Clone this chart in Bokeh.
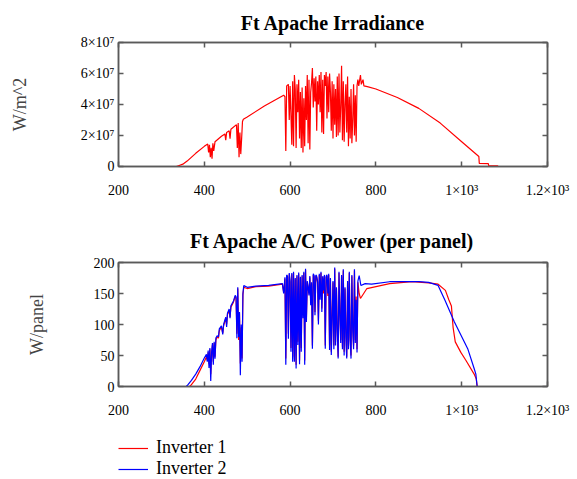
from bokeh.plotting import figure
from bokeh.layouts import column
from bokeh.models import (FixedTicker, LinearAxis, Legend, LegendItem,
                          CustomJSTickFormatter, Range1d)
from bokeh.embed import file_html
from bokeh.resources import INLINE

# ---------------- data ----------------
x_ticks = [200, 400, 600, 800, 1000, 1200]
x_tick_labels = ["200", "400", "600", "800", "1×10³", "1.2×10³"]
irr_ticks = [0, 2e7, 4e7, 6e7, 8e7]
irr_tick_labels = ["0", "2×10⁷", "4×10⁷", "6×10⁷", "8×10⁷"]
pow_ticks = [0, 50, 100, 150, 200]
pow_tick_labels = ["0", "50", "100", "150", "200"]
series_names = ["Inverter 1", "Inverter 2"]

irr_x = [200, 335, 340, 350, 360, 380, 400, 408, 410, 412, 414, 416, 418, 420, 422, 425,
         440, 448, 450, 452, 458, 460, 462, 475, 477, 479, 481, 483, 485, 487, 489, 491,
         500, 540, 585, 588, 590, 592, 596, 598, 600, 604, 606, 608, 610, 612, 614, 616,
         618, 620, 622, 624, 626, 628, 630, 632, 634, 636, 638, 640, 642, 644, 646, 648,
         650, 652, 654, 656, 658, 660, 662, 664, 666, 668, 670, 672, 674, 676, 678, 680,
         682, 684, 686, 688, 690, 692, 694, 696, 698, 700, 702, 704, 706, 708, 710, 712,
         714, 716, 718, 720, 722, 724, 726, 728, 730, 732, 734, 736, 738, 740, 742, 744,
         746, 748, 750, 752, 754, 756, 758, 760, 764, 766, 770, 772, 780, 800, 850, 900,
         950, 1000, 1040, 1041, 1062, 1063, 1083, 1085, 1200]
irr_y = [0, 0, 0.05e7, 0.15e7, 0.35e7, 0.85e7, 1.3e7, 1.45e7, 0.9e7, 1.4e7, 0.6e7, 1.2e7,
         0.5e7, 1.5e7, 1.0e7, 1.6e7,
         1.95e7, 2.1e7, 1.7e7, 2.2e7, 2.3e7, 1.8e7, 2.4e7, 2.7e7, 1.2e7, 2.8e7, 0.6e7,
         2.2e7, 0.8e7, 1.8e7, 2.9e7, 3.05e7,
         3.2e7, 3.9e7, 4.6e7, 4.5e7, 1.0e7, 5.2e7, 5.3e7, 3.0e7, 5.2e7, 1.4e7, 5.5e7,
         1.3e7, 5.9e7, 5.0e7, 1.2e7, 5.3e7,
         3.5e7, 5.6e7, 1.8e7, 4.8e7, 1.2e7, 5.1e7, 0.9e7, 4.4e7, 1.3e7, 5.2e7, 3.0e7,
         5.9e7, 1.5e7, 5.6e7, 1.1e7, 4.8e7,
         5.4e7, 6.35e7, 3.8e7, 5.7e7, 4.2e7, 5.8e7, 2.3e7, 5.5e7, 4.0e7, 5.9e7, 3.5e7,
         6.1e7, 2.2e7, 5.6e7, 2.1e7, 5.9e7,
         5.2e7, 6.1e7, 3.1e7, 5.8e7, 3.5e7, 6.0e7, 4.8e7, 2.3e7, 5.5e7, 1.8e7, 5.3e7,
         2.7e7, 5.0e7, 1.9e7, 5.8e7, 2.0e7,
         6.0e7, 2.2e7, 3.9e7, 6.5e7, 1.7e7, 5.5e7, 1.6e7, 4.0e7, 5.3e7, 2.2e7, 5.8e7,
         1.3e7, 4.5e7, 1.8e7, 5.0e7, 1.5e7,
         3.0e7, 5.3e7, 2.0e7, 4.6e7, 1.6e7, 5.2e7, 5.6e7, 5.2e7, 5.9e7, 5.3e7, 5.6e7,
         5.2e7, 5.15e7, 5.0e7, 4.45e7, 3.75e7,
         2.8e7, 1.6e7, 0.65e7, 0.2e7, 0.18e7, 0.05e7, 0.05e7, 0, 0]

inv2_x = [200, 358, 362, 370, 380, 390, 400, 405, 407, 409, 411, 413, 415, 417, 419, 421,
          423, 425, 427, 430, 433, 435, 440, 443, 445, 450, 452, 454, 458, 460, 462, 468,
          472, 474, 476, 478, 480, 482, 484, 486, 488, 490, 492, 500, 520, 550, 582, 585,
          588, 590, 592, 594, 596, 598, 600, 602, 604, 606, 608, 610, 612, 614, 616, 618,
          620, 622, 624, 626, 628, 630, 632, 634, 636, 638, 640, 642, 644, 646, 648, 650,
          652, 654, 656, 658, 660, 662, 664, 666, 668, 670, 672, 674, 676, 678, 680, 682,
          684, 686, 688, 690, 692, 694, 696, 698, 700, 702, 704, 706, 708, 710, 712, 714,
          716, 718, 720, 722, 724, 726, 728, 730, 732, 734, 736, 738, 740, 742, 744, 746,
          748, 750, 752, 754, 756, 758, 761, 765, 775, 790, 832, 900, 923, 945, 961, 983,
          1014, 1029, 1033, 1036, 1200]
inv2_y = [0, 0, 3, 10, 20, 32, 46, 52, 40, 58, 30, 62, 9, 55, 70, 35,
          72, 45, 78, 82, 80, 93, 98, 84, 100, 112, 96, 118, 125, 110, 130, 138,
          147, 145, 78, 160, 80, 120, 18, 100, 40, 150, 163, 160, 162, 163, 166, 150,
          176, 35, 180, 178, 77, 183, 170, 56, 183, 40, 185, 40, 175, 29, 180, 67,
          184, 36, 177, 56, 180, 110, 185, 35, 190, 104, 170, 160, 147, 178, 131, 168,
          61, 182, 179, 115, 180, 178, 170, 100, 182, 140, 185, 120, 178, 155, 180, 61,
          178, 180, 150, 182, 59, 175, 51, 108, 170, 60, 192, 66, 160, 90, 45, 185,
          115, 70, 180, 60, 189, 50, 160, 80, 45, 170, 60, 185, 75, 45, 180, 90,
          60, 189, 70, 140, 55, 170, 179, 163, 166, 165, 169, 169, 168, 163, 139, 104,
          61, 29, 20, 0, 0]

inv1_x = [200, 366, 370, 380, 390, 400, 405, 407, 409, 411, 413, 415, 417, 419, 421,
          423, 425, 427, 430, 433, 435, 440, 443, 445, 450, 452, 454, 458, 460, 462, 468,
          472, 474, 476, 478, 480, 482, 484, 486, 488, 490, 492, 500, 520, 550, 582, 585,
          588, 590, 592, 594, 596, 598, 600, 602, 604, 606, 608, 610, 612, 614, 616, 618,
          620, 622, 624, 626, 628, 630, 632, 634, 636, 638, 640, 642, 644, 646, 648, 650,
          652, 654, 656, 658, 660, 662, 664, 666, 668, 670, 672, 674, 676, 678, 680, 682,
          684, 686, 688, 690, 692, 694, 696, 698, 700, 702, 704, 706, 708, 710, 712, 714,
          716, 718, 720, 722, 724, 726, 728, 730, 732, 734, 736, 738, 740, 742, 744, 746,
          748, 750, 752, 754, 756, 758, 761, 764, 779, 832, 884, 923, 945, 962, 970, 976,
          980, 985, 998, 1010, 1029, 1034, 1036, 1200]
inv1_y = [0, 0, 3, 12, 26, 40, 48, 42, 55, 36, 60, 20, 52, 67, 40,
          70, 48, 75, 80, 78, 90, 96, 86, 98, 110, 100, 116, 122, 112, 128, 136,
          145, 143, 85, 158, 75, 118, 37, 95, 45, 148, 160, 158, 161, 162, 165, 152,
          174, 45, 178, 176, 85, 181, 168, 62, 181, 48, 183, 45, 173, 35, 178, 72,
          182, 42, 175, 62, 178, 115, 183, 42, 188, 110, 168, 158, 150, 176, 137, 166,
          66, 180, 177, 120, 178, 176, 168, 106, 180, 145, 183, 126, 176, 150, 178, 66,
          176, 178, 146, 180, 66, 173, 56, 115, 168, 66, 190, 72, 158, 96, 48, 183,
          120, 75, 178, 64, 187, 56, 158, 86, 48, 168, 66, 183, 80, 50, 178, 96,
          66, 187, 75, 145, 60, 168, 150, 142, 158, 166, 169, 167, 165, 155, 140, 130,
          95, 72, 55, 42, 20, 12, 0, 0]

# ---------------- styling helpers ----------------
SERIF = "Liberation Serif"
FRAME = "#5a5a5a"


def fmt(tvals, tlabels):
    return CustomJSTickFormatter(args=dict(tvals=tvals, tlabels=tlabels), code="""
        let best = -1, bd = Infinity;
        for (let i = 0; i < tvals.length; i++) {
            const d = Math.abs(tvals[i] - tick);
            if (d < bd) { bd = d; best = i; }
        }
        return (best >= 0 && bd <= Math.abs(tick) * 1e-6 + 1e-9) ? tlabels[best] : '';
    """)


def blank():
    return CustomJSTickFormatter(code="return '';")


def style(p, xt, xl, yt, yl, ylabel, title_standoff):
    p.xaxis.ticker = FixedTicker(ticks=xt)
    p.yaxis.ticker = FixedTicker(ticks=yt)
    p.xaxis.formatter = fmt(xt, xl)
    p.yaxis.formatter = fmt(yt, yl)
    p.yaxis.axis_label = ylabel
    p.yaxis.axis_label_text_font = SERIF
    p.yaxis.axis_label_text_font_style = "normal"
    p.yaxis.axis_label_text_font_size = "18px"
    p.yaxis.axis_label_standoff = 48
    p.xaxis.major_label_standoff = 16
    p.yaxis.major_label_standoff = 4
    top = LinearAxis(ticker=FixedTicker(ticks=xt), formatter=blank())
    right = LinearAxis(ticker=FixedTicker(ticks=yt), formatter=blank())
    p.add_layout(top, "above")
    p.add_layout(right, "right")
    for ax in p.axis:
        ax.axis_line_color = FRAME
        ax.axis_line_width = 1.5
        ax.major_tick_line_color = FRAME
        ax.major_tick_line_width = 1.5
        ax.major_tick_in = 5
        ax.major_tick_out = 0
        ax.minor_tick_line_color = None
        ax.major_label_text_font = SERIF
        ax.major_label_text_font_size = "14px"
        ax.major_label_text_color = "black"
    for ax in (top, right):
        ax.major_label_text_font_size = "1px"
        ax.major_label_standoff = 0
    p.outline_line_color = FRAME
    p.outline_line_width = 1.5
    p.grid.grid_line_color = None
    p.title.text_font = SERIF
    p.title.text_font_size = "20px"
    p.title.text_font_style = "bold"
    p.title.align = "center"
    p.title.text_color = "black"
    p.title.standoff = title_standoff


# ---------------- top figure ----------------
p1 = figure(width=577, height=200, output_backend="svg", toolbar_location=None,
            x_range=Range1d(200, 1200), y_range=Range1d(0, 8e7),
            title="Ft Apache Irradiance",
            min_border_left=118, min_border_right=30, min_border_top=41,
            min_border_bottom=34)
style(p1, x_ticks, x_tick_labels, irr_ticks, irr_tick_labels, "W/m^2", 18)
p1.line(irr_x, irr_y, line_color="#ff0000", line_width=1.2)

# ---------------- bottom figure ----------------
p2 = figure(width=577, height=220, output_backend="svg", toolbar_location=None,
            x_range=Range1d(200, 1200), y_range=Range1d(0, 200),
            title="Ft Apache A/C Power (per panel)",
            min_border_left=112, min_border_right=26, min_border_top=62,
            min_border_bottom=33)
style(p2, x_ticks, x_tick_labels, pow_ticks, pow_tick_labels, "W/panel", 22)
p2.yaxis.axis_label_standoff = 44
p2.line(inv1_x, inv1_y, line_color="#ff0000", line_width=1.2)
p2.line(inv2_x, inv2_y, line_color="#0000ff", line_width=1.2)

# ---------------- legend strip ----------------
p3 = figure(width=577, height=59, output_backend="svg", toolbar_location=None,
            x_range=Range1d(0, 1), y_range=Range1d(-2, -1),
            x_axis_location=None, y_axis_location=None,
            min_border_left=107, min_border_right=0, min_border_top=0,
            min_border_bottom=0)
p3.outline_line_color = None
p3.grid.grid_line_color = None
g1 = p3.line(inv1_x, inv1_y, line_color="#ff0000", line_width=1.2)
g2 = p3.line(inv2_x, inv2_y, line_color="#0000ff", line_width=1.2)
legend = Legend(items=[LegendItem(label=series_names[0], renderers=[g1]),
                       LegendItem(label=series_names[1], renderers=[g2])],
                location="bottom_left", orientation="vertical",
                border_line_color=None, background_fill_alpha=0,
                label_text_font=SERIF, label_text_font_size="18px",
                label_text_color="black",
                glyph_width=30, glyph_height=18, label_standoff=8,
                spacing=0, padding=0, margin=0)
p3.add_layout(legend)

layout = column(p1, p2, p3, spacing=0)
open("out.html", "w").write(file_html(layout, INLINE))
